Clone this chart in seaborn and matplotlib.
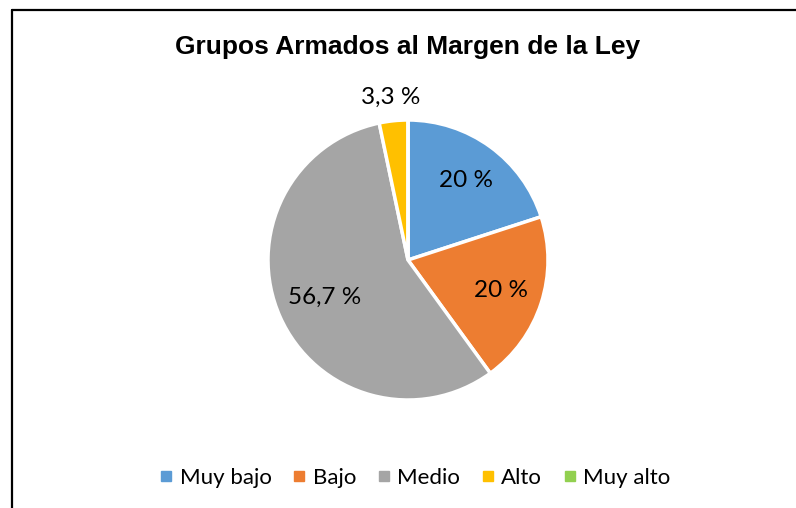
import matplotlib
matplotlib.use("Agg")
import matplotlib.pyplot as plt
from matplotlib.lines import Line2D
import seaborn as sns

categories = ["Muy bajo", "Bajo", "Medio", "Alto", "Muy alto"]
values = [20, 20, 56.7, 3.3, 0]
colors = ["#5B9BD5", "#ED7D31", "#A5A5A5", "#FFC000", "#92D050"]
title = "Grupos Armados al Margen de la Ley"

sns.set_theme(style="white")
plt.rcParams["font.family"] = ["Lato", "DejaVu Sans"]
plt.rcParams["text.color"] = "black"

W, H = 796, 508
fig = plt.figure(figsize=(W / 100, H / 100), dpi=100)
fig.patch.set_facecolor("white")

cx, cy, r = 408, 260, 140
side = 2.5 * r
ax = fig.add_axes([(cx - side / 2) / W, (H - cy - side / 2) / H, side / W, side / H])


def fmt(p):
    if p < 0.05:
        return ""
    if abs(p - round(p)) < 0.05:
        return f"{int(round(p))} %"
    return f"{p:.1f} %".replace(".", ",")


wedges, texts, autotexts = ax.pie(
    values, colors=colors, startangle=90, counterclock=False,
    autopct=fmt, pctdistance=0.7,
    wedgeprops=dict(edgecolor="white", linewidth=2.5),
    textprops=dict(fontsize=17.5, color="black"),
)
ax.set_aspect("equal")

# Label radius adjustments (small slice outside, large slice a bit inward)
for v, t in zip(values, autotexts):
    x, y = t.get_position()
    if 0 < v < 5:
        t.set_position((x / 0.7 * 1.17, y / 0.7 * 1.17))
    elif v > 50:
        t.set_position((x / 0.7 * 0.65, y / 0.7 * 0.65))

fig.text(cx / W, 1 - 47 / H, title, ha="center", va="center", color="black",
         fontsize=19, fontweight="bold", family=["Liberation Sans", "DejaVu Sans"])

handles = [Line2D([0], [0], marker="s", linestyle="none", markersize=7,
                  markerfacecolor=c, markeredgecolor=c) for c in colors]
leg = fig.legend(handles, categories, loc="center", bbox_to_anchor=(414 / W, 1 - 478 / H),
                 ncol=5, frameon=False, fontsize=16, handletextpad=0.2, columnspacing=0.85,
                 handlelength=0.8)
for t in leg.get_texts():
    t.set_color("black")

# Chart border (left and top visible)
fig.add_artist(Line2D([12 / W, 12 / W], [0, 1 - 10 / H], transform=fig.transFigure,
                      color="black", linewidth=1.6))
fig.add_artist(Line2D([12 / W, 1], [1 - 10 / H, 1 - 10 / H], transform=fig.transFigure,
                      color="black", linewidth=1.6))

fig.savefig("out.png", dpi=100, facecolor="white")
